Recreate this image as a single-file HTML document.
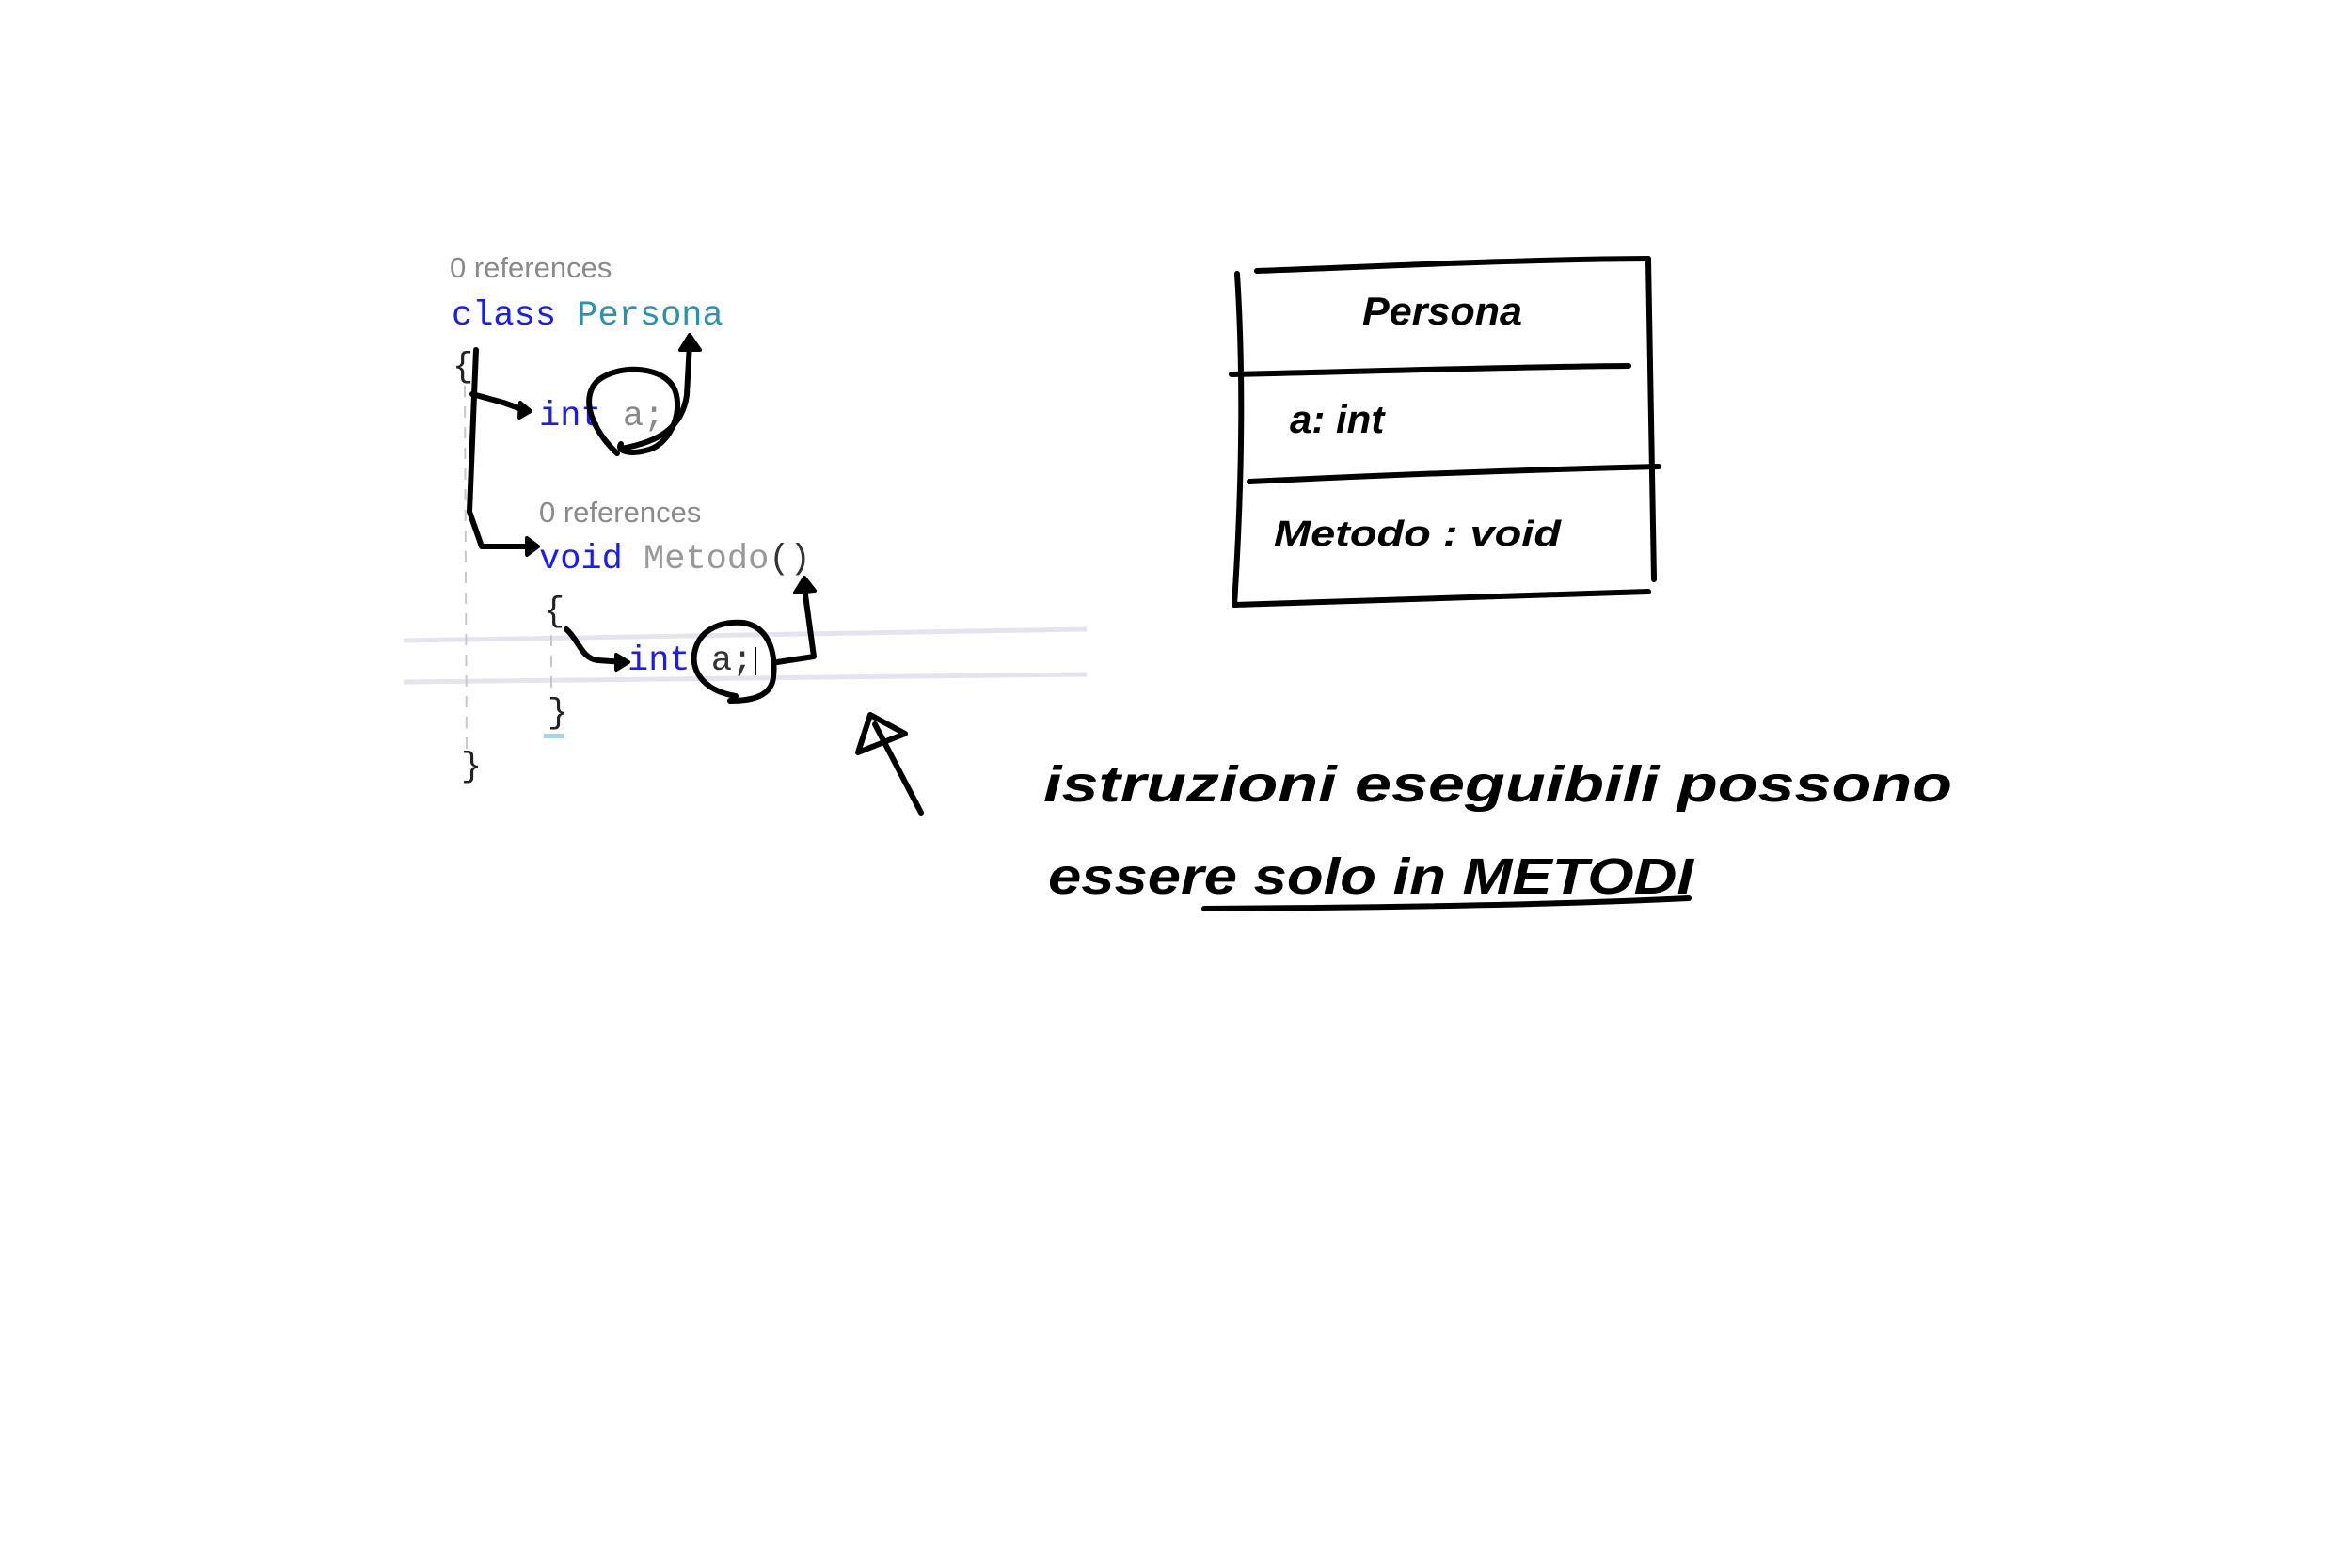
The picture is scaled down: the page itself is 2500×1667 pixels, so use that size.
<!DOCTYPE html>
<html><head><meta charset="utf-8"><style>
html,body{margin:0;padding:0;background:#fff;}
svg{display:block}
.ref{font-family:"Liberation Sans",sans-serif;font-size:31px;fill:#8a8a8a}
.code{font-family:"Liberation Mono",monospace;font-size:37px}
.hw{font-family:"Liberation Sans",sans-serif;font-style:italic;font-weight:bold;fill:#000}
</style></head><body>
<svg width="2500" height="1667" viewBox="0 0 2500 1667" xmlns="http://www.w3.org/2000/svg">
<rect width="2500" height="1667" fill="#fff"/>
<line x1="429" y1="681" x2="1155" y2="669" stroke="#e4e4ec" stroke-width="5"/>
<line x1="429" y1="725" x2="1155" y2="717" stroke="#e4e4ec" stroke-width="5"/>
<line x1="494" y1="410" x2="496" y2="800" stroke="#c8c8c8" stroke-width="2" stroke-dasharray="12,10"/>
<line x1="586" y1="675" x2="586" y2="740" stroke="#c8c8c8" stroke-width="2" stroke-dasharray="12,10"/>
<rect x="578" y="780" width="22" height="5" fill="#a8d4e0"/>
<text x="478" y="295" class="ref">0 references</text>
<text x="480" y="345" class="code"><tspan fill="#1a1aff">class</tspan> <tspan fill="#2b91af">Persona</tspan></text>
<text x="481" y="400" class="code" fill="#222">{</text>
<text x="573" y="452" class="code"><tspan fill="#1a1aff">int</tspan> <tspan fill="#888">a;</tspan></text>
<text x="573" y="555" class="ref">0 references</text>
<text x="573" y="604" class="code"><tspan fill="#1a1aff">void</tspan> <tspan fill="#999">Metodo</tspan><tspan fill="#333">()</tspan></text>
<text x="578" y="660" class="code" fill="#222">{</text>
<text x="667" y="712" class="code"><tspan fill="#1a1aff">int</tspan> <tspan fill="#333">a;</tspan></text>
<line x1="803" y1="688" x2="803" y2="718" stroke="#000" stroke-width="2"/>
<text x="582" y="768" class="code" fill="#222">}</text>
<text x="490" y="825" class="code" fill="#222">}</text>
<g fill="none" stroke="#000" stroke-width="6" stroke-linecap="round" stroke-linejoin="round">
<path d="M506,372 L504,420 L499,544 L512,581 L560,581"/>
<path d="M502,419 L535,428 L560,437"/>
<path d="M656,482 C632,460 615,425 635,405 C655,388 700,388 715,410 C728,432 715,470 690,478 C670,484 655,480 660,472"/>
<path d="M660,477 C700,470 725,455 730,420 L733,365"/>
<path d="M602,669 C615,680 618,700 635,702 L664,704"/>
<path d="M782,740 C750,735 735,715 738,695 C742,670 765,660 790,662 C815,666 825,690 822,720 C820,740 800,745 776,745"/>
<path d="M826,704 L865,698 L855,625"/>
<path d="M979,864 L930,770"/>
<path d="M1336,288 C1450,284 1600,276 1752,275"/>
<path d="M1315,291 C1322,400 1320,520 1312,643"/>
<path d="M1752,275 C1754,400 1756,520 1758,616"/>
<path d="M1309,398 C1450,395 1600,390 1731,389"/>
<path d="M1328,512 C1450,506 1600,500 1763,496"/>
<path d="M1312,643 C1450,640 1600,633 1752,629"/>
<path d="M1280,966 C1450,965 1650,962 1795,955"/>
</g>
<g fill="#000" stroke="#000" stroke-width="4" stroke-linejoin="round">
<polygon points="560,572 572,581 560,590"/>
<polygon points="553,428 564,437 552,444"/>
<polygon points="723,372 733,356 744,372"/>
<polygon points="655,696 668,704 655,712"/>
<polygon points="845,630 855,614 866,628"/>
</g>
<polygon points="912,800 925,760 962,780" fill="none" stroke="#000" stroke-width="6" stroke-linejoin="round"/>
<text x="1448" y="345" class="hw" font-size="42" textLength="170" lengthAdjust="spacingAndGlyphs">Persona</text>
<text x="1371" y="460" class="hw" font-size="42">a: int</text>
<text x="1354" y="580" class="hw" font-size="38" textLength="305" lengthAdjust="spacingAndGlyphs">Metodo : void</text>
<text x="1109" y="852" class="hw" font-size="54" textLength="966" lengthAdjust="spacingAndGlyphs">istruzioni eseguibili   possono</text>
<text x="1114" y="950" class="hw" font-size="54" textLength="686" lengthAdjust="spacingAndGlyphs">essere solo  in  METODI</text>
</svg>
</body></html>
